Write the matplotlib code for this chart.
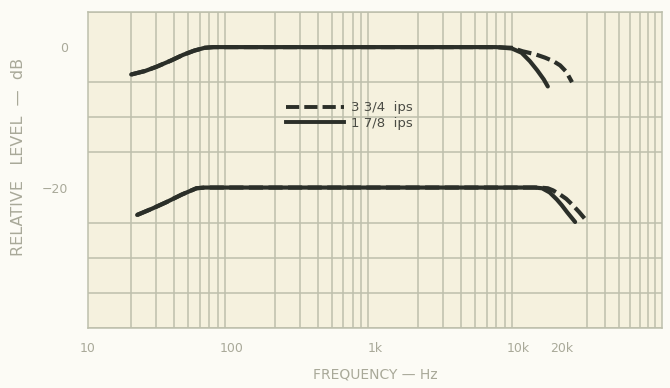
import matplotlib
matplotlib.use("Agg")
from matplotlib import pyplot as plt

# frequency response (Hz, dB)
freq_top_178 = [20, 25, 30, 38, 46, 55, 65, 75, 1000, 7000, 9000, 10500, 12000, 13500, 15000, 16000]
db_top_178 = [-3.9, -3.4, -2.8, -1.9, -1.1, -0.5, -0.1, 0, 0, 0, -0.2, -0.8, -2.0, -3.3, -4.6, -5.6]

freq_top_334 = [20, 25, 30, 38, 46, 55, 65, 75, 1000, 7000, 9000, 10700, 13000, 15300, 17500, 19500, 21500, 23600]
db_top_334 = [-3.9, -3.4, -2.8, -1.9, -1.1, -0.5, -0.1, 0, 0, 0, -0.1, -0.6, -1.0, -1.5, -2.0, -2.6, -3.5, -5.0]

freq_bot_178 = [22, 28, 35, 45, 57, 65, 1000, 13000, 14600, 16500, 18500, 20000, 21800, 24800]
db_bot_178 = [-23.9, -23.0, -22.1, -21.0, -20.1, -20, -20, -20, -20.1, -20.7, -21.7, -22.5, -23.5, -24.9]

freq_bot_334 = [22, 28, 35, 45, 57, 65, 1000, 14000, 16000, 17400, 19500, 21500, 23600, 26500, 30000]
db_bot_334 = [-23.9, -23.0, -22.1, -21.0, -20.1, -20, -20, -20, -20.1, -20.4, -21.0, -21.6, -22.4, -23.5, -24.8]

x_ticks = [10, 100, 1000, 10000, 20000]
x_ticklabels = ["10", "100", "1k", "10k", "20k"]
y_ticks = [0, -20]
y_ticklabels = ["0", "\u221220"]

ink = "#2b2f29"
grid_col = "#bdbfac"
label_col = "#a9a999"

fig = plt.figure(figsize=(6.7, 3.88), dpi=100)
fig.patch.set_facecolor("#fcfbf5")
ax = fig.add_axes([88 / 670, 60 / 388, 574 / 670, 316 / 388])
ax.set_facecolor("#f5f1de")

ax.set_xscale("log")
ax.set_xlim(10, 100000)
ax.set_ylim(-40, 5)

# graph-paper grid: every 1..9 per decade, every 5 dB
minor_x = [m * 10 ** d for d in range(1, 5) for m in range(1, 10)]
ax.set_xticks(minor_x, minor=True)
ax.set_yticks(range(-40, 6, 5), minor=True)
ax.grid(True, which="minor", color=grid_col, linewidth=1.1)
ax.grid(False, which="major")
ax.set_axisbelow(True)

ax.set_xticks(x_ticks)
ax.set_xticklabels(x_ticklabels)
ax.set_yticks(y_ticks)
ax.set_yticklabels(y_ticklabels)
ax.tick_params(which="both", length=0, colors=label_col, labelsize=9)
ax.tick_params(axis="x", pad=10)
ax.tick_params(axis="y", pad=14)
for s in ax.spines.values():
    s.set_color(grid_col)
    s.set_linewidth(1.1)

dashes = (3.4, 1.3)
ax.plot(freq_top_178, db_top_178, color=ink, lw=3.0, solid_capstyle="round")
ax.plot(freq_top_334, db_top_334, color=ink, lw=3.0, dashes=dashes)
ax.plot(freq_bot_178, db_bot_178, color=ink, lw=3.0, solid_capstyle="round")
ax.plot(freq_bot_334, db_bot_334, color=ink, lw=3.0, dashes=dashes)

h1, = ax.plot([], [], color=ink, lw=2.8, dashes=dashes)
h2, = ax.plot([], [], color=ink, lw=2.8)
leg = ax.legend([h1, h2], ["3 3/4  ips", "1 7/8  ips"], loc="center left",
                bbox_to_anchor=(0.325, 0.672), frameon=False, handlelength=4.4,
                handletextpad=0.5, labelspacing=0.2, fontsize=9.5)
for t in leg.get_texts():
    t.set_color("#4a4b44")

ax.set_xlabel("FREQUENCY \u2014 Hz", color=label_col, fontsize=10, labelpad=9)
ax.set_ylabel("RELATIVE   LEVEL  \u2014  dB", color=label_col, fontsize=11.5)
ax.yaxis.set_label_coords(-0.108, 0.54)

fig.savefig("out.png", dpi=100, facecolor=fig.get_facecolor())
